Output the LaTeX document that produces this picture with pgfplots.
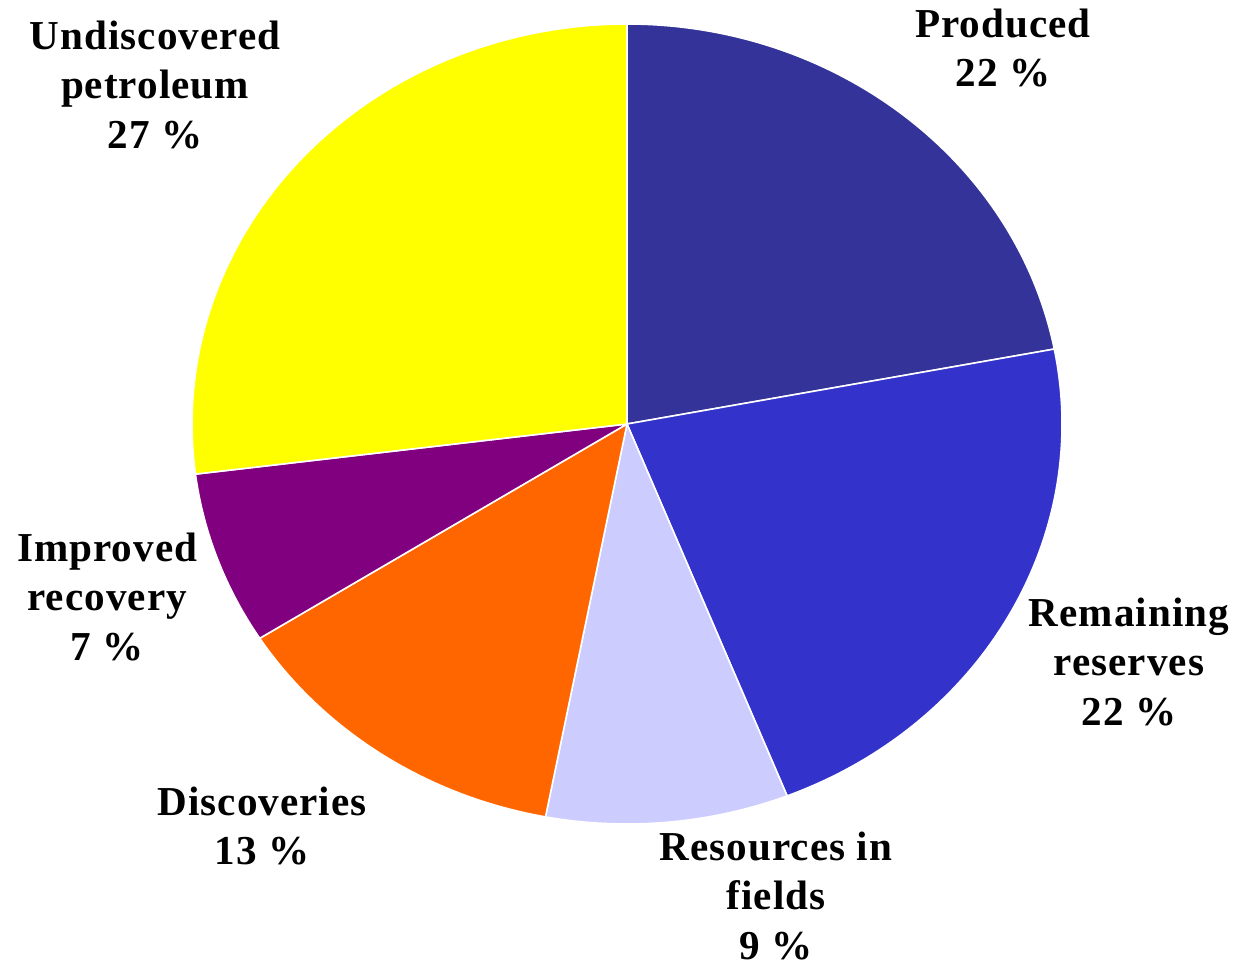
\documentclass[border=0pt]{standalone}
\usepackage{pgfplots}
\pgfplotsset{compat=1.18}
\usepackage{fontspec}
\setmainfont{Liberation Serif}[LetterSpace=2.5]
\definecolor{cprod}{HTML}{333399}
\definecolor{crem}{HTML}{3333CC}
\definecolor{cres}{HTML}{CCCCFF}
\definecolor{cdisc}{HTML}{FF6600}
\definecolor{cimp}{HTML}{800080}
\definecolor{cund}{HTML}{FFFF00}
\newcommand\slice[2]{%
  \pgfmathsetmacro\endang{\startang-3.6*#1}%
  \edef\temp{\noexpand\fill[#2, draw=white, line width=0.45pt] (axis cs:0,0) -- (axis cs:{cos(\startang)},{sin(\startang)}) arc[start angle=\startang, end angle=\endang, x radius=4.35cm, y radius=4cm] -- cycle;}%
  \temp
  \global\let\startang\endang}
\begin{document}
\begin{tikzpicture}
\begin{axis}[
  hide axis,
  x=4.35cm, y=4cm,
  xmin=-1.4414, xmax=1.4,
  ymin=-1.355, ymax=1.06,
  clip=false,
]
\gdef\startang{90}
\slice{22}{cprod}
\slice{22}{crem}
\slice{9}{cres}
\slice{13}{cdisc}
\slice{7}{cimp}
\slice{27}{cund}
\tikzset{lab/.style={align=center, inner sep=0pt, font=\fontsize{11.7pt}{14.2pt}\selectfont\bfseries}}
\node[lab] at (axis cs:0.864,0.94) {Produced\\22 \%};
\node[lab] at (axis cs:1.154,-0.595) {Remaining\\reserves\\22 \%};
\node[lab] at (axis cs:0.3425,-1.18) {Resources in\\fields\\9 \%};
\node[lab] at (axis cs:-0.839,-1.005) {Discoveries\\13 \%};
\node[lab] at (axis cs:-1.195,-0.4325) {Improved\\recovery\\7 \%};
\node[lab] at (axis cs:-1.085,0.8475) {Undiscovered\\petroleum\\27 \%};
\end{axis}
\pgfresetboundingbox
\useasboundingbox (current axis.south west) rectangle (current axis.north east);
\end{tikzpicture}
\end{document}
